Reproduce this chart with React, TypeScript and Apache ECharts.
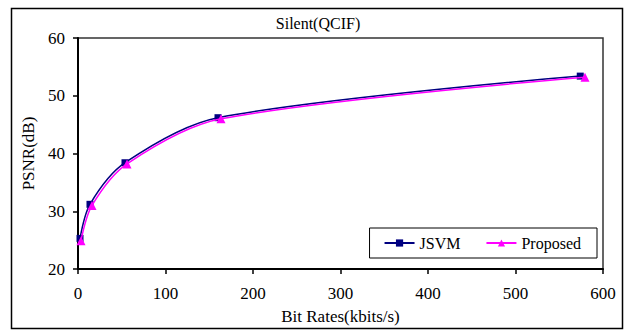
import React, { useEffect, useRef } from "react";
import * as echarts from "echarts";

const jsvmRates = [2.3, 13.7, 53.7, 160, 574];
const jsvmPsnr = [25.3, 31.2, 38.4, 46.2, 53.4];
const propRates = [3.4, 16, 56, 163.4, 579.4];
const propPsnr = [24.9, 31.0, 38.2, 46.0, 53.2];
const xTicks = [0, 100, 200, 300, 400, 500, 600];
const yTicks = [20, 30, 40, 50, 60];

const FONT = "'Liberation Serif', 'DejaVu Serif', serif";

export default function App() {
  const ref = useRef<HTMLDivElement>(null);
  useEffect(() => {
    if (!ref.current) return;
    const chart = echarts.init(ref.current, null, { renderer: "svg" });
    const pair = (xs: number[], ys: number[]) => xs.map((x, i) => [x, ys[i]]);
    chart.setOption({
      animation: false,
      backgroundColor: "#ffffff",
      title: {
        text: "Silent(QCIF)",
        left: 318,
        textAlign: "center",
        top: 15,
        padding: 0,
        textStyle: { fontFamily: FONT, fontSize: 16, fontWeight: "normal", color: "#000" },
      },
      graphic: [
        {
          type: "rect",
          shape: { x: 11.5, y: 8.5, width: 611, height: 320 },
          style: { fill: "none", stroke: "#000", lineWidth: 1.5 },
          silent: true,
        },
      ],
      grid: {
        left: 78,
        right: 27,
        top: 38,
        bottom: 62,
        show: true,
        borderColor: "#333",
        borderWidth: 1.5,
        backgroundColor: "transparent",
      },
      legend: {
        right: 33,
        top: 228,
        itemWidth: 30,
        itemHeight: 9,
        itemGap: 25,
        padding: [7, 16, 7, 14],
        borderColor: "#000",
        borderWidth: 1,
        textStyle: { fontFamily: FONT, fontSize: 16, color: "#000" },
        data: ["JSVM", "Proposed"],
      },
      xAxis: {
        type: "value",
        min: xTicks[0],
        max: xTicks[xTicks.length - 1],
        interval: 100,
        name: "Bit Rates(kbits/s)",
        nameLocation: "middle",
        nameGap: 39,
        nameTextStyle: { fontFamily: FONT, fontSize: 17, color: "#000" },
        axisLine: { lineStyle: { color: "#000", width: 2 } },
        axisTick: { show: true, length: 5, lineStyle: { color: "#000", width: 1.5 } },
        axisLabel: { fontFamily: FONT, fontSize: 17, color: "#000", margin: 16 },
        splitLine: { show: false },
      },
      yAxis: {
        type: "value",
        min: yTicks[0],
        max: yTicks[yTicks.length - 1],
        interval: 10,
        name: "PSNR(dB)",
        nameLocation: "middle",
        nameGap: 37,
        nameTextStyle: { fontFamily: FONT, fontSize: 17, color: "#000" },
        axisLine: { show: true, lineStyle: { color: "#000", width: 2 } },
        axisTick: { show: true, length: 5, lineStyle: { color: "#000", width: 1.5 } },
        axisLabel: { fontFamily: FONT, fontSize: 17, color: "#000", margin: 13 },
        splitLine: { show: false },
      },
      series: [
        {
          name: "JSVM",
          type: "line",
          data: pair(jsvmRates, jsvmPsnr),
          smooth: 0.3,
          symbol: "rect",
          symbolSize: 7,
          itemStyle: { color: "#000080" },
          lineStyle: { color: "#000080", width: 1.5 },
          z: 2,
        },
        {
          name: "Proposed",
          type: "line",
          data: pair(propRates, propPsnr),
          smooth: 0.3,
          symbol: "triangle",
          symbolSize: 9,
          itemStyle: { color: "#ff00ff" },
          lineStyle: { color: "#ff00ff", width: 1.5 },
          z: 3,
        },
      ],
    });
    return () => chart.dispose();
  }, []);
  return (
    <div
      ref={ref}
      style={{ position: "fixed", left: 0, top: 0, width: 630, height: 331 }}
    />
  );
}
